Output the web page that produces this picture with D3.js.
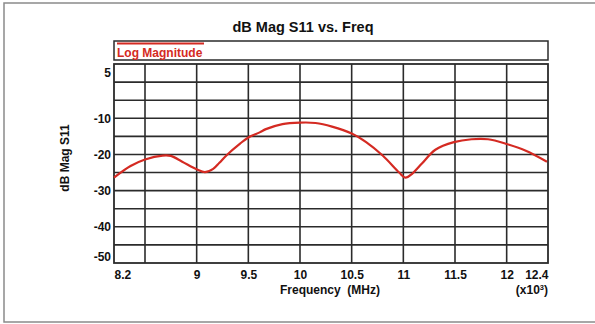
<!DOCTYPE html>
<html><head><meta charset="utf-8">
<script src="https://cdn.jsdelivr.net/npm/d3@7"></script>
<style>
html,body{margin:0;padding:0;background:#fff;}
svg{display:block;font-family:"Liberation Sans",Arial,sans-serif;}
</style></head>
<body><svg id="c" width="595" height="324"></svg>
<script>
const freq = [8.20,8.36,8.50,8.67,8.75,8.86,9.00,9.08,9.16,9.22,9.29,9.42,9.50,9.61,9.67,9.83,10.00,10.15,10.31,10.50,10.64,10.80,10.96,11.02,11.09,11.18,11.31,11.49,11.66,11.82,12.00,12.18,12.39];
const s11 = [-26.4,-23.2,-21.4,-20.3,-20.4,-22.0,-24.1,-24.9,-24.0,-22.3,-20.2,-17.0,-15.3,-13.9,-13.0,-11.6,-11.2,-11.3,-12.3,-14.2,-16.6,-20.3,-25.0,-26.4,-25.2,-22.5,-18.7,-16.6,-15.8,-15.8,-17.1,-18.9,-22.0];
const xGrid = [8.5,9,9.5,10,10.5,11,11.5,12];
const yGrid = [0,-5,-10,-15,-20,-25,-30,-35,-40,-45];
const xTickLabels = [8.2,9,9.5,10,10.5,11,11.5,12,12.4];
const yTickLabels = [5,-10,-20,-30,-40,-50];
const title = "dB Mag S11 vs. Freq";
const legendLabel = "Log Magnitude";
const xTitle = "Frequency\u00a0\u00a0(MHz)";
const yTitle = "dB Mag S11";

const svg = d3.select("#c");
const L=114,R=548,T=64,B=263;
const x = d3.scaleLinear().domain([8.2,12.4]).range([L,R]);
const y = d3.scaleLinear().domain([-50,5]).range([B,T]);
const red = "#d42a22", grid = "#2b2b2b";

// outer frame
svg.append("rect").attr("x",4).attr("y",3).attr("width",600).attr("height",319)
  .attr("fill","none").attr("stroke","#8a8a8a").attr("stroke-width",1.5);

// title
svg.append("text").attr("x",303).attr("y",32).attr("text-anchor","middle")
  .attr("font-size",14.5).attr("font-weight","bold").attr("fill","#111").text(title);

// legend box
svg.append("rect").attr("x",L).attr("y",41).attr("width",R-L).attr("height",19)
  .attr("fill","#fff").attr("stroke",grid).attr("stroke-width",1.5);
svg.append("line").attr("x1",117).attr("x2",204).attr("y1",43.5).attr("y2",43.5)
  .attr("stroke",red).attr("stroke-width",2);
svg.append("text").attr("x",117).attr("y",56.5).attr("font-size",12).attr("font-weight","bold")
  .attr("fill",red).text(legendLabel);

// grid
const g = svg.append("g");
g.selectAll(".vx").data(xGrid).join("line")
  .attr("x1",d=>x(d)).attr("x2",d=>x(d)).attr("y1",T).attr("y2",B)
  .attr("stroke",grid).attr("stroke-width",1.6);
g.selectAll(".hy").data(yGrid).join("line")
  .attr("x1",L).attr("x2",R).attr("y1",d=>y(d)).attr("y2",d=>y(d))
  .attr("stroke",grid).attr("stroke-width",1.6);
g.append("rect").attr("x",L).attr("y",T).attr("width",R-L).attr("height",B-T)
  .attr("fill","none").attr("stroke",grid).attr("stroke-width",1.8);

// curve
const line = d3.line().x((d,i)=>x(freq[i])).y(d=>y(d)).curve(d3.curveCatmullRom.alpha(0.5));
svg.append("path").datum(s11).attr("d",line).attr("fill","none")
  .attr("stroke",red).attr("stroke-width",2.2);

// x axis labels
const xa = svg.append("g").attr("transform",`translate(0,${B})`)
  .call(d3.axisBottom(x).tickValues(xTickLabels).tickSize(0).tickPadding(7).tickFormat(d3.format("")));
xa.select(".domain").remove();
xa.selectAll("text").attr("font-size",12).attr("font-weight","bold").attr("fill","#111")
  .attr("font-family","Liberation Sans, Arial, sans-serif")
  .attr("text-anchor",d=>d===8.2?"start":(d===12.4?"end":"middle"));

// y axis labels
const ya = svg.append("g").attr("transform",`translate(${L},0)`)
  .call(d3.axisLeft(y).tickValues(yTickLabels).tickSize(0).tickPadding(3).tickFormat(d=>String(d)));
ya.select(".domain").remove();
ya.selectAll("text").attr("font-size",12).attr("font-weight","bold").attr("fill","#111")
  .attr("font-family","Liberation Sans, Arial, sans-serif")
  .attr("dy",d=>d===5?"1.0em":(d===-50?"-0.2em":"0.32em"));

// axis titles
svg.append("text").attr("x",330).attr("y",294).attr("text-anchor","middle")
  .attr("font-size",12).attr("font-weight","bold").attr("fill","#111").text(xTitle);
const mult = svg.append("text").attr("x",R).attr("y",294).attr("text-anchor","end")
  .attr("font-size",12).attr("font-weight","bold").attr("fill","#111");
mult.append("tspan").text("(x10");
mult.append("tspan").attr("font-size",7.5).attr("dy",-4).text("3");
mult.append("tspan").attr("dy",4).text(")");
svg.append("text").attr("transform","translate(69,158) rotate(-90)").attr("text-anchor","middle")
  .attr("font-size",12).attr("font-weight","bold").attr("fill","#111").text(yTitle);
</script></body></html>
